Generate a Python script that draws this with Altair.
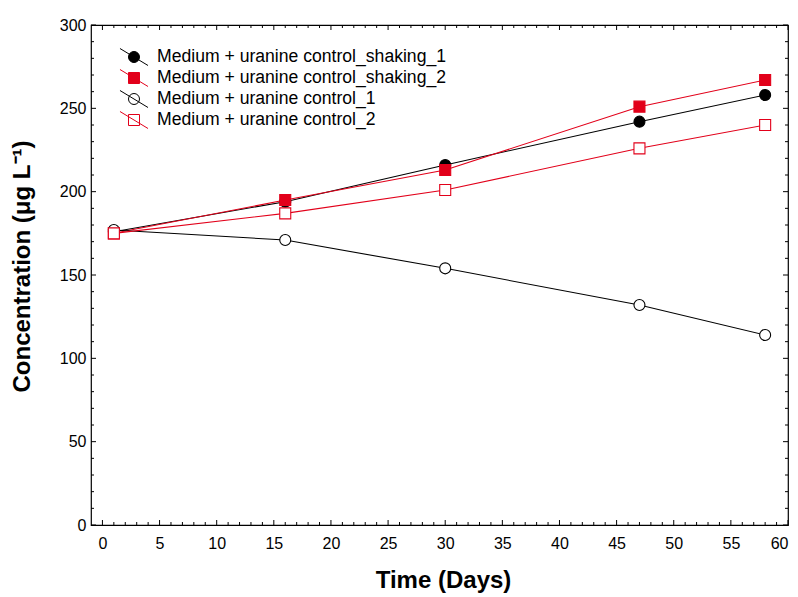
import altair as alt
import pandas as pd

# Sampling days and measured concentrations (µg/L)
days = [1, 16, 30, 47, 58]
shaking_1 = [176, 194, 216, 242, 258]
shaking_2 = [175, 195, 213, 251, 267]
control_1 = [177, 171, 154, 132, 114]
control_2 = [175, 187, 201, 226, 240]

series_names = [
    "Medium + uranine control_shaking_1",
    "Medium + uranine control_shaking_2",
    "Medium + uranine control_1",
    "Medium + uranine control_2",
]
series_values = [shaking_1, shaking_2, control_1, control_2]

BLACK = "#000000"
RED = "#e2001a"
stroke_colors = [BLACK, RED, BLACK, RED]
marker_shapes = ["circle", "square", "circle", "square"]
marker_fills = [BLACK, RED, "#ffffff", "#ffffff"]

# legend glyphs: a short slanted line through the marker
CIRCLE_GLYPH = ("M-1.65,-1L1.65,1"
                "M0.647,0C0.647,0.357,0.357,0.647,0,0.647"
                "C-0.357,0.647,-0.647,0.357,-0.647,0"
                "C-0.647,-0.357,-0.357,-0.647,0,-0.647"
                "C0.357,-0.647,0.647,-0.357,0.647,0Z")
SQUARE_GLYPH = ("M-1.65,-1L1.65,1"
                "M-0.647,-0.647L0.647,-0.647L0.647,0.647L-0.647,0.647Z")
legend_shapes = [CIRCLE_GLYPH, SQUARE_GLYPH, CIRCLE_GLYPH, SQUARE_GLYPH]
legend_fills = [BLACK, RED, "transparent", "transparent"]

rows = []
for name, vals in zip(series_names, series_values):
    for d, v in zip(days, vals):
        rows.append({"day": d, "value": v, "series": name})
df = pd.DataFrame(rows)

# tick positions for the inward-facing frame ticks
x_major = list(range(0, 61, 5))
x_minor = [v for v in range(0, 61) if v % 5 != 0]
y_major = list(range(0, 301, 50))
y_minor = [v for v in range(0, 301, 10) if v % 50 != 0]

W, H = 697, 500
FONT = "Liberation Sans"

x_scale = alt.Scale(domain=[-1, 60], nice=False, zero=False)
y_scale = alt.Scale(domain=[0, 300], nice=False)

x_axis = alt.Axis(
    title="Time (Days)", values=x_major, ticks=False, domain=False, grid=False,
    labelFont=FONT, labelFontSize=16, labelColor="black", labelPadding=10,
    titleFont=FONT, titleFontSize=24, titleFontWeight="bold", titleColor="black",
    titleX=352, titleY=55, titleBaseline="middle",
)
y_axis = alt.Axis(
    title="Concentration (μg L⁻¹)", values=y_major, ticks=False, domain=False, grid=False,
    labelFont=FONT, labelFontSize=16, labelColor="black", labelPadding=5,
    titleFont=FONT, titleFontSize=24, titleFontWeight="bold", titleColor="black",
    titleX=-69, titleY=241, titleAngle=-90, titleBaseline="middle",
)

X = alt.X("day:Q", scale=x_scale, axis=x_axis)
Y = alt.Y("value:Q", scale=y_scale, axis=y_axis)

lines = alt.Chart(df).mark_line(strokeWidth=1.1).encode(
    x=X, y=Y,
    color=alt.Color("series:N", scale=alt.Scale(domain=series_names, range=stroke_colors), legend=None),
)

points = alt.Chart(df).mark_point(size=121, strokeWidth=1.1, opacity=1).encode(
    x=X, y=Y,
    shape=alt.Shape("series:N", scale=alt.Scale(domain=series_names, range=marker_shapes), legend=None),
    stroke=alt.Stroke("series:N", scale=alt.Scale(domain=series_names, range=stroke_colors), legend=None),
    fill=alt.Fill("series:N", scale=alt.Scale(domain=series_names, range=marker_fills), legend=None),
)

legend = alt.Legend(
    title=None, orient="none", legendX=34, legendY=23, padding=0,
    labelFont=FONT, labelFontSize=17.6, labelColor="black", labelOffset=14, labelLimit=0,
    rowPadding=-1, symbolStrokeWidth=1, symbolSize=289, symbolOpacity=1,
)
legend_layer = alt.Chart(df).transform_filter(alt.datum.value < 0).mark_point(
    size=289, strokeWidth=1, opacity=1
).encode(
    x=X, y=Y,
    shape=alt.Shape("series:N", scale=alt.Scale(domain=series_names, range=legend_shapes), legend=legend),
    stroke=alt.Stroke("series:N", scale=alt.Scale(domain=series_names, range=stroke_colors), legend=legend),
    fill=alt.Fill("series:N", scale=alt.Scale(domain=series_names, range=legend_fills), legend=legend),
)


def x_ticks(values, length):
    src = pd.DataFrame({"day": values})
    bottom = alt.Chart(src).mark_rule(color="black", strokeWidth=1).encode(
        x=X, y=alt.value(H), y2=alt.value(H - length))
    top = alt.Chart(src).mark_rule(color="black", strokeWidth=1).encode(
        x=X, y=alt.value(0), y2=alt.value(length))
    return [bottom, top]


def y_ticks(values, length):
    src = pd.DataFrame({"value": values})
    left = alt.Chart(src).mark_rule(color="black", strokeWidth=1).encode(
        y=Y, x=alt.value(0), x2=alt.value(length))
    right = alt.Chart(src).mark_rule(color="black", strokeWidth=1).encode(
        y=Y, x=alt.value(W), x2=alt.value(W - length))
    return [left, right]


tick_layers = x_ticks(x_major, 5) + x_ticks(x_minor, 3) + y_ticks(y_major, 5) + y_ticks(y_minor, 3)

chart = alt.layer(
    *tick_layers, lines, points, legend_layer
).resolve_scale(
    shape="independent", fill="independent", stroke="independent"
).properties(
    width=W, height=H,
    autosize=alt.AutoSizeParams(type="none"),
    padding={"left": 91, "top": 25, "right": 10, "bottom": 72},
    background="white",
).configure_view(
    stroke="black", strokeWidth=1.2,
)

chart.save("out.html", embed_options={"renderer": "svg", "actions": False})
